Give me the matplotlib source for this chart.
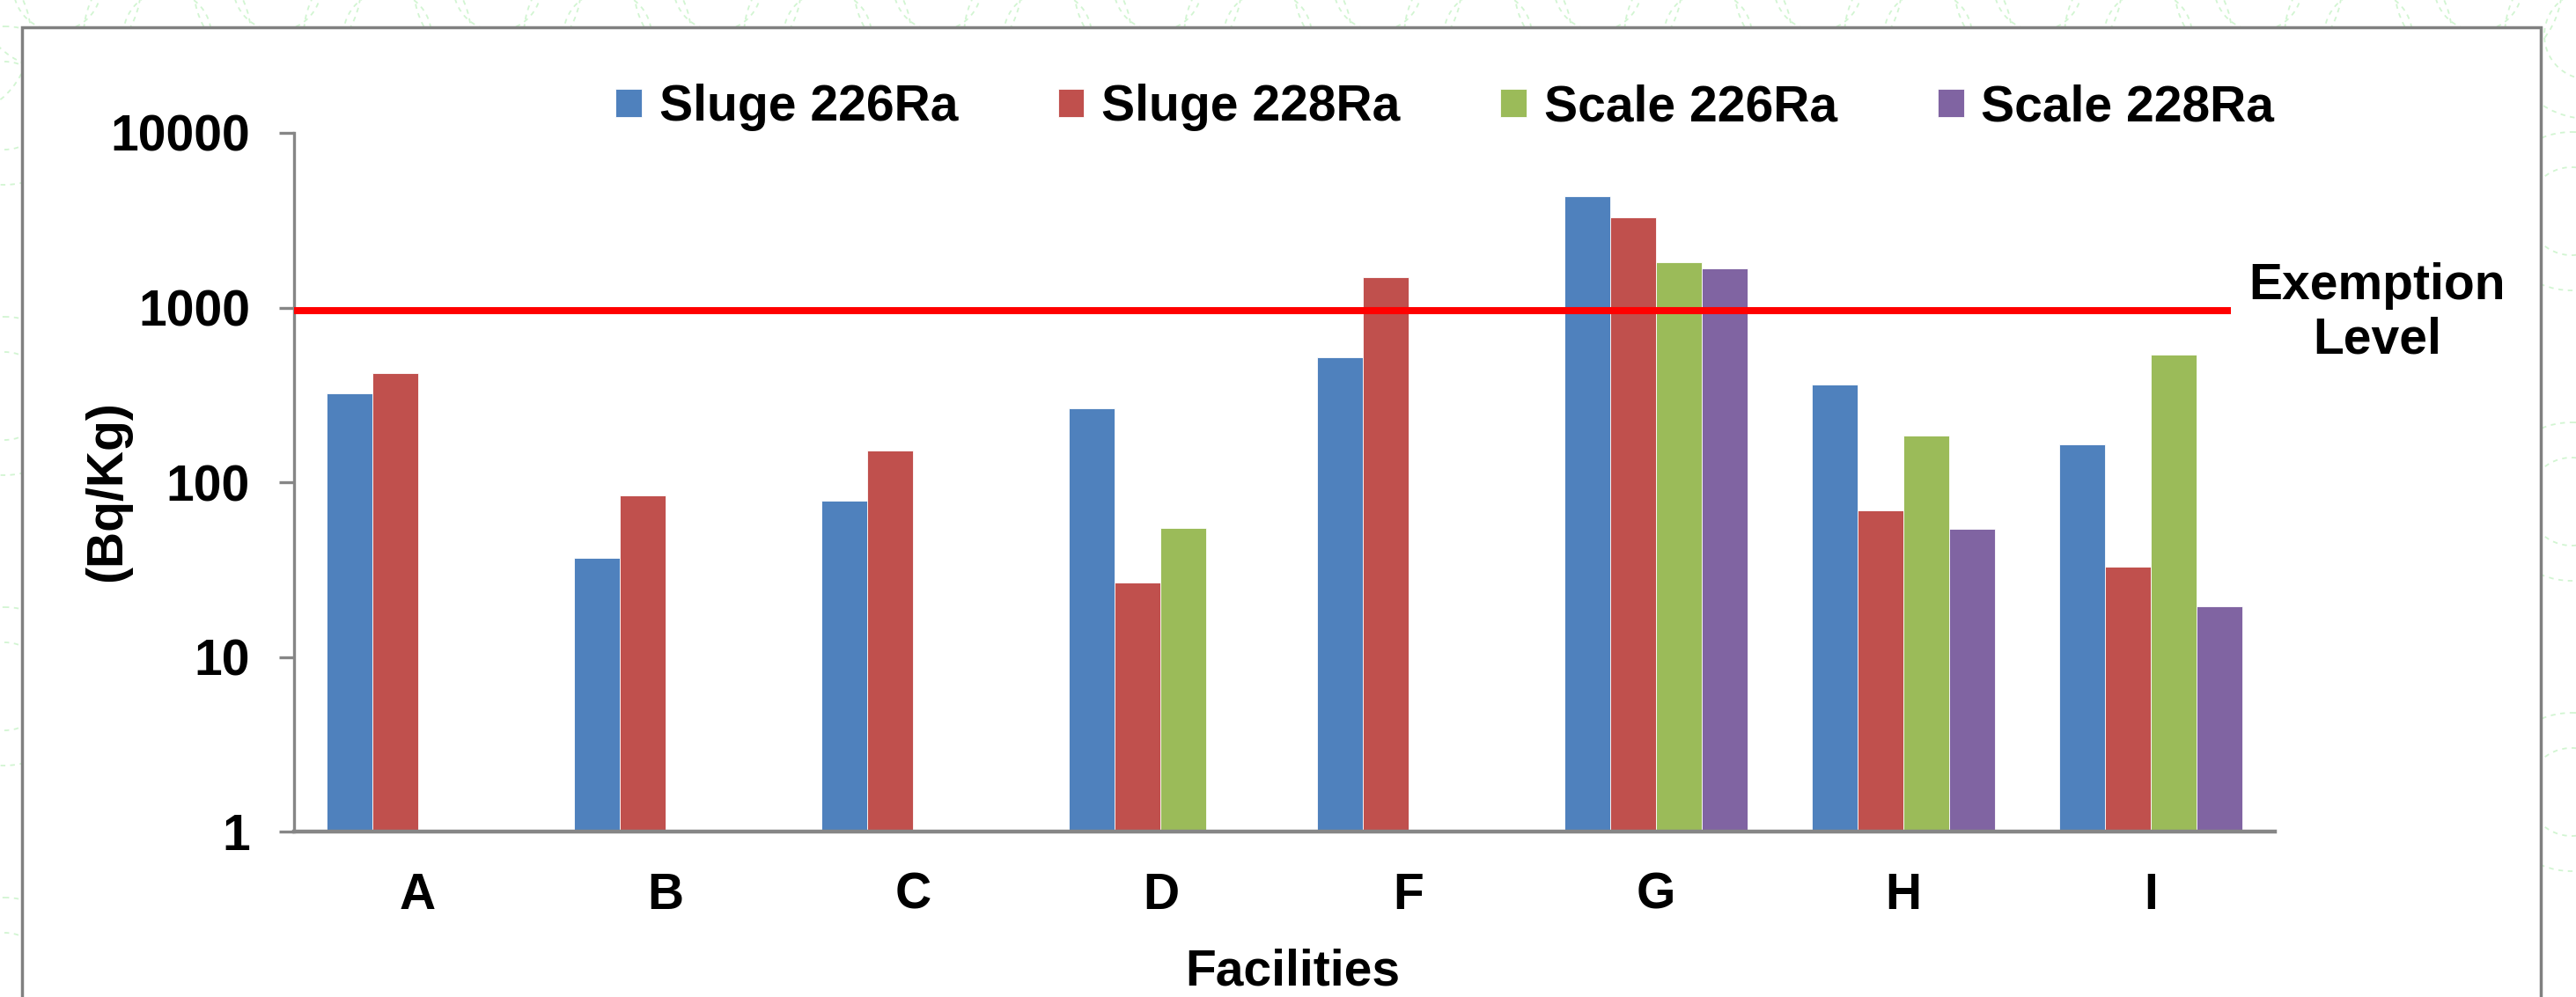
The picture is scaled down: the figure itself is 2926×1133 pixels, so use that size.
import numpy as np
import matplotlib
matplotlib.use("Agg")
import matplotlib.pyplot as plt
from matplotlib.patches import Rectangle, Circle

plt.rcParams['font.family'] = ['Liberation Sans', 'DejaVu Sans']
plt.rcParams['font.weight'] = 'bold'

# data (Bq/Kg), nan = no sample
facilities = ["A", "B", "C", "D", "F", "G", "H", "I"]
sluge_226 = [322, 37, 78, 265, 517, 4340, 362, 165]
sluge_228 = [421, 84, 152, 26.7, 1490, 3280, 69, 32.8]
scale_226 = [np.nan, np.nan, np.nan, 54.7, np.nan, 1817, 185, 537]
scale_228 = [np.nan, np.nan, np.nan, np.nan, np.nan, 1676, 54, 19.5]
series_names = ["Sluge 226Ra", "Sluge 228Ra", "Scale 226Ra", "Scale 228Ra"]
colors = ["#4F81BD", "#C0504D", "#9BBB59", "#8064A2"]
exemption_level = 960
y_ticks = [1, 10, 100, 1000, 10000]

W, H = 2926, 1133
fig = plt.figure(figsize=(W / 100, H / 100), dpi=100)
fig.patch.set_facecolor("white")

# faint green dashed swirl pattern behind the chart frame
bg = fig.add_axes([0, 0, 1, 1], zorder=-10)
bg.set_xlim(0, W)
bg.set_ylim(H, 0)
bg.axis("off")
pat = "#d2f5d2"
dash = (0, (3, 3))
for cx in np.arange(-60, W + 250, 250):
    for r in (50, 95):
        bg.add_patch(Circle((cx, 40), r, fill=False, ec=pat, lw=1.3, ls=dash))
        bg.add_patch(Circle((cx + 125, -15), r, fill=False, ec=pat, lw=1.3, ls=dash))
for cy in np.arange(120, H + 250, 330):
    for r in (50, 90):
        bg.add_patch(Circle((5, cy), r, fill=False, ec=pat, lw=1.3, ls=dash))
        bg.add_patch(Circle((W - 5, cy + 120), r, fill=False, ec=pat, lw=1.3, ls=dash))
# white chart area with grey border (bottom runs off the image)
bg.add_patch(Rectangle((25, 31), 2886 - 25, H + 50, fc="white", ec="#808080", lw=2.5, zorder=5))

# plot area
ax_left, ax_right, ax_top, ax_bottom = 334, 2584, 151, 945
ax = fig.add_axes([ax_left / W, 1 - ax_bottom / H, (ax_right - ax_left) / W, (ax_bottom - ax_top) / H])
ax.patch.set_alpha(0)

x = np.arange(len(facilities))
bw = 0.185
all_series = [sluge_226, sluge_228, scale_226, scale_228]
for i, (vals, name, c) in enumerate(zip(all_series, series_names, colors)):
    ax.bar(x + (i - 1.5) * bw, vals, width=bw, color=c, edgecolor="white", linewidth=0.6,
           label=name, zorder=2)

ax.set_yscale("log")
ax.set_ylim(1, 10000)
ax.set_xlim(-0.5, len(facilities) - 0.5)
ax.set_yticks(y_ticks)
ax.set_yticklabels([str(t) for t in y_ticks])
ax.minorticks_off()
ax.set_xticks(x)
ax.set_xticklabels(facilities)

for s in ("top", "right"):
    ax.spines[s].set_visible(False)
ax.spines["left"].set_color("#868686")
ax.spines["left"].set_linewidth(2.4)
ax.spines["bottom"].set_color("#868686")
ax.spines["bottom"].set_linewidth(3.2)
ax.tick_params(axis="y", length=12, width=2.4, color="#868686", pad=24, labelsize=41)
ax.tick_params(axis="x", length=0, pad=33, labelsize=41)

# exemption level line
ax.axhline(exemption_level, xmin=0, xmax=0.976, color="#FF0000", lw=5.8, zorder=3)
fig.text(2700 / W, 1 - 340 / H, "Exemption", ha="center", va="baseline", fontsize=41)
fig.text(2700 / W, 1 - 402 / H, "Level", ha="center", va="baseline", fontsize=41)

ax.text(-0.094, 0.487, "(Bq/Kg)", transform=ax.transAxes, rotation=90,
        ha="center", va="center", fontsize=41)
fig.text(1468 / W, 1 - 1119 / H, "Facilities", ha="center", va="baseline", fontsize=41)

fig.legend(loc="center left", bbox_to_anchor=(699 / W, 1 - 122 / H), ncol=4, frameon=False,
           fontsize=41, handlelength=0.52, handleheight=0.5, handletextpad=0.35,
           columnspacing=2.0, borderpad=0, borderaxespad=0)

fig.savefig("out.png", dpi=100, facecolor="white")
